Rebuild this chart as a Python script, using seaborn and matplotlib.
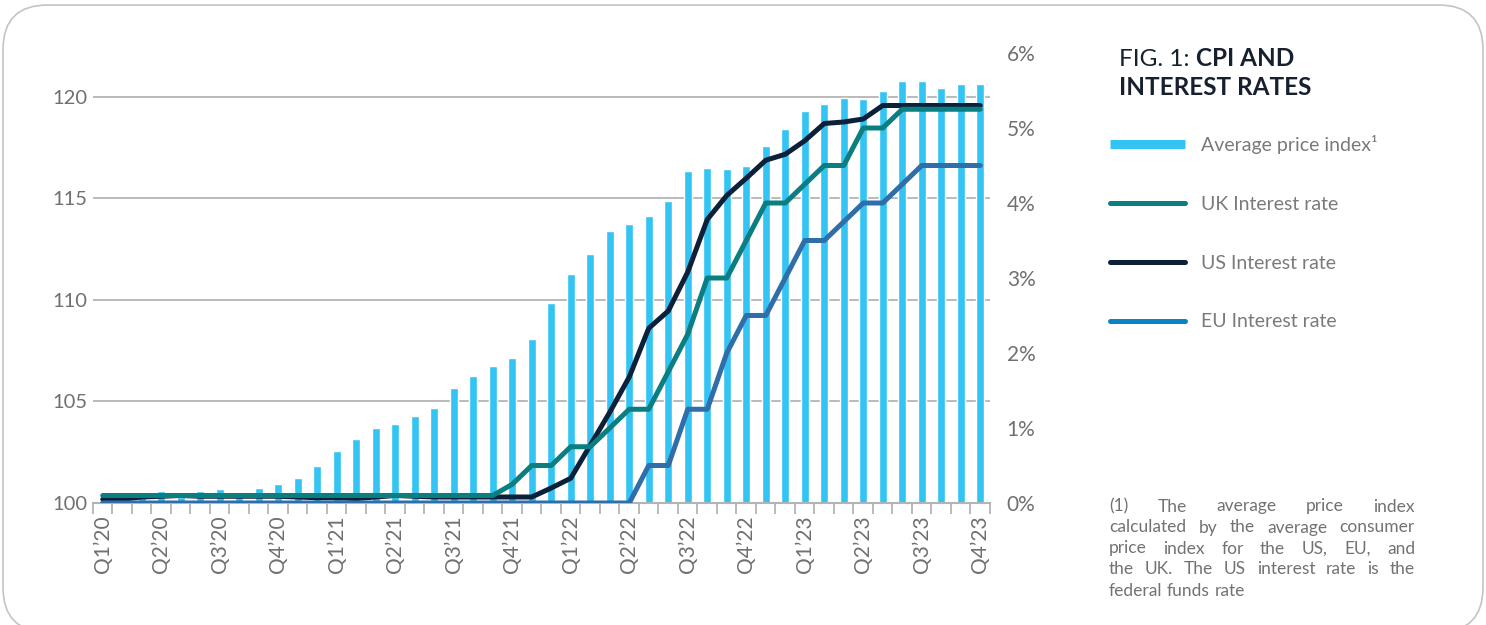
import numpy as np
import pandas as pd
import matplotlib
matplotlib.use("Agg")
import matplotlib.pyplot as plt
import seaborn as sns
from matplotlib.lines import Line2D
from matplotlib.patches import FancyBboxPatch

# ---------------- data ----------------
quarter_labels = ["Q1’20", "Q2’20", "Q3’20", "Q4’20", "Q1’21", "Q2’21", "Q3’21", "Q4’21",
                  "Q1’22", "Q2’22", "Q3’22", "Q4’22", "Q1’23", "Q2’23", "Q3’23", "Q4’23"]

cpi_index = [100.0, 100.15, 100.3, 100.59, 100.3, 100.59, 100.69, 100.35, 100.74, 100.94,
             101.23, 101.82, 102.56, 103.15, 103.69, 103.89, 104.28, 104.68, 105.66, 106.25,
             106.74, 107.14, 108.07, 109.84, 111.27, 112.25, 113.39, 113.73, 114.12, 114.86,
             116.34, 116.49, 116.44, 116.58, 117.57, 118.41, 119.29, 119.64, 119.93, 119.88,
             120.28, 120.77, 120.77, 120.42, 120.62, 120.62]

uk_rate = [0.1] * 21 + [0.25, 0.5, 0.5, 0.75, 0.75, 1.0, 1.25, 1.25, 1.75, 2.25, 3.0, 3.0,
                        3.5, 4.0, 4.0, 4.25, 4.5, 4.5, 5.0, 5.0, 5.25, 5.25, 5.25, 5.25, 5.25]

us_rate = [0.05, 0.05, 0.08, 0.09, 0.10, 0.09, 0.09, 0.09, 0.09, 0.09, 0.08, 0.07, 0.07,
           0.06, 0.08, 0.10, 0.09, 0.08, 0.08, 0.08, 0.08, 0.08, 0.08, 0.20, 0.33, 0.77,
           1.21, 1.68, 2.33, 2.56, 3.08, 3.78, 4.10, 4.33, 4.57, 4.65, 4.83, 5.06, 5.08,
           5.12, 5.30, 5.30, 5.30, 5.30, 5.30, 5.30]

eu_rate = [0.0] * 28 + [0.5, 0.5, 1.25, 1.25, 2.0, 2.5, 2.5, 3.0, 3.5, 3.5, 3.75, 4.0,
                        4.0, 4.25, 4.5, 4.5, 4.5, 4.5]

left_ticks = [100, 105, 110, 115, 120]
right_ticks = [0, 1, 2, 3, 4, 5, 6]

legend_labels = ["Average price index¹", "UK Interest rate", "US Interest rate", "EU Interest rate"]
title_regular = "FIG. 1: "
title_bold_1 = "CPI AND"
title_bold_2 = "INTEREST RATES"
footnote_lines = [
    ["(1)", "The", "average", "price", "index"],
    ["calculated", "by", "the", "average", "consumer"],
    ["price", "index", "for", "the", "US,", "EU,", "and"],
    ["the", "UK.", "The", "US", "interest", "rate", "is", "the"],
    ["federal", "funds", "rate"],
]

# ---------------- style ----------------
C_BAR = "#33c4f4"
C_UK = "#0b7e81"
C_US = "#0c2039"
C_EU = "#2f6ea8"
C_EU_LEG = "#0d84c2"
C_GRID = "#b4b4b4"
C_TICK = "#707070"
C_TEXT = "#7a7a7a"
C_TITLE = "#17202e"

sns.set_theme(style="white")
plt.rcParams["font.family"] = ["Lato", "DejaVu Sans"]

W, H = 1486, 625
fig = plt.figure(figsize=(W / 100, H / 100), dpi=100)

def fx(x):
    return x / W

def fy(y):
    return 1 - y / H

# outer rounded frame
frame = FancyBboxPatch((fx(3), fy(632)), fx(1483) - fx(3), fy(5) - fy(632),
                       boxstyle="round,pad=0,rounding_size=0.03",
                       transform=fig.transFigure, fill=False, edgecolor="#c4c4c4",
                       lw=1.2, mutation_aspect=W / H)
fig.patches.append(frame)

ax = fig.add_axes([fx(93), fy(503), (990 - 93) / W, (503 - 53) / H])

months = np.arange(len(cpi_index))
df = pd.DataFrame({"month": months, "cpi": cpi_index, "uk": uk_rate,
                   "us": us_rate, "eu": eu_rate})

sns.barplot(data=df, x="month", y="cpi", color=C_BAR, saturation=1, width=0.42, ax=ax)
ax.set_ylim(100, 122.15)
ax.set_xlim(-0.5, len(months) - 0.5)
ax.set_yticks(left_ticks)
ax.set_yticklabels([str(t) for t in left_ticks])
ax.yaxis.grid(True, color=C_GRID, lw=1.3)
ax.xaxis.grid(False)
ax.set_axisbelow(True)
ax.set_xlabel("")
ax.set_ylabel("")
for s in ["top", "right", "left"]:
    ax.spines[s].set_visible(False)
ax.spines["bottom"].set_color(C_GRID)
ax.spines["bottom"].set_linewidth(1.5)

ax.set_xticks(months[::3])
ax.set_xticklabels(quarter_labels, rotation=90)
ax.set_xticks(np.arange(-0.5, len(months), 1), minor=True)
ax.tick_params(axis="x", which="major", length=0, pad=9, labelsize=15,
               labelcolor=C_TICK)
ax.tick_params(axis="x", which="minor", length=8, width=1.3, color=C_GRID,
               direction="out", bottom=True)
ax.tick_params(axis="y", length=0, pad=4, labelsize=14.5, labelcolor=C_TICK)

ax2 = ax.twinx()
line_kw = dict(lw=3.6, solid_capstyle="round", solid_joinstyle="round")
sns.lineplot(data=df, x="month", y="us", color=C_US, ax=ax2, **line_kw)
sns.lineplot(data=df, x="month", y="uk", color=C_UK, ax=ax2, **line_kw)
sns.lineplot(data=df, x="month", y="eu", color=C_EU, ax=ax2, **line_kw)
ax2.set_ylim(0, 6)
ax2.set_xlim(-0.5, len(months) - 0.5)
ax2.set_yticks(right_ticks)
ax2.set_yticklabels([f"{t}%" for t in right_ticks])
ax2.tick_params(axis="y", length=0, pad=12, labelsize=15, labelcolor=C_TICK)
ax2.set_xlabel("")
ax2.set_ylabel("")
ax2.grid(False)
for s in ax2.spines.values():
    s.set_visible(False)

# ---------------- title ----------------
renderer = fig.canvas.get_renderer()
t_reg = fig.text(fx(1119), fy(66.5), title_regular, fontsize=17.5, color=C_TITLE,
                 va="baseline", ha="left")
bb = t_reg.get_window_extent(renderer)
fig.text(fx(bb.x1), fy(66.5), title_bold_1, fontsize=17.5, color=C_TITLE,
         fontweight="bold", va="baseline", ha="left")
fig.text(fx(1119), fy(95), title_bold_2, fontsize=17.5, color=C_TITLE,
         fontweight="bold", va="baseline", ha="left")

# ---------------- legend ----------------
handles = [Line2D([], [], color=C_BAR, lw=6.5, solid_capstyle="butt"),
           Line2D([], [], color=C_UK, lw=3.6, solid_capstyle="round"),
           Line2D([], [], color=C_US, lw=3.6, solid_capstyle="round"),
           Line2D([], [], color=C_EU_LEG, lw=3.6, solid_capstyle="round")]
leg = fig.legend(handles, legend_labels, loc="upper left",
                 bbox_to_anchor=(fx(1110), fy(135)), frameon=False,
                 fontsize=14, handlelength=3.85, handletextpad=0.82,
                 labelspacing=2.15, borderaxespad=0, borderpad=0)
for t in leg.get_texts():
    t.set_color(C_TEXT)

# ---------------- footnote (justified) ----------------
x0, x1 = 1109, 1415
base = 511.5
step = 21
FN = 12.5
for k, words in enumerate(footnote_lines):
    y = base + k * step
    texts = [fig.text(0, 0, w, fontsize=FN, color="#727272", va="baseline",
                      ha="left") for w in words]
    widths = [t.get_window_extent(renderer).width for t in texts]
    if k < len(footnote_lines) - 1:
        gap = (x1 - x0 - sum(widths)) / (len(words) - 1)
    else:
        sp = fig.text(0, 0, "a b", fontsize=FN)
        sp2 = fig.text(0, 0, "ab", fontsize=FN)
        gap = sp.get_window_extent(renderer).width - sp2.get_window_extent(renderer).width
        sp.remove()
        sp2.remove()
    x = x0
    for t, w in zip(texts, widths):
        t.set_position((fx(x), fy(y)))
        x += w + gap

fig.savefig("out.png", dpi=100)
